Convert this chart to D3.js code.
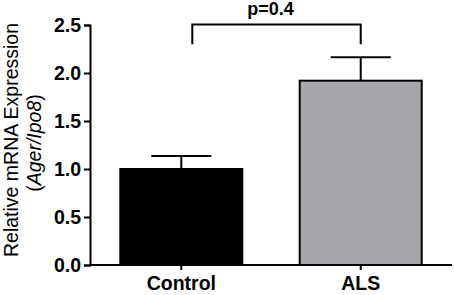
<!DOCTYPE html>
<html><head><meta charset="utf-8">
<script src="https://cdn.jsdelivr.net/npm/d3@7"></script>
<style>body{margin:0;background:#fff}svg{display:block}</style>
</head><body>
<script>
const categories = ["Control", "ALS"];
const means = [1.0, 1.92];
const sems = [0.135, 0.245];
const yTicks = [0, 0.5, 1.0, 1.5, 2.0, 2.5];
const pLabel = "p=0.4";
const bracket = { top: 2.505, leg: 2.30 };
const colors = ["#000000", "#a7a6ab"];

const W = 454, H = 295;
const svg = d3.select("body").append("svg").attr("width", W).attr("height", H);
const font = "'Liberation Sans', Arial, sans-serif";

const y = d3.scaleLinear().domain([0, 2.5]).range([265, 25]);
const x = d3.scaleBand().domain(categories).range([91.6, 450.4]).paddingInner(0.32).paddingOuter(0.16);

// bars
svg.selectAll("rect.bar").data(categories).join("rect")
  .attr("x", d => x(d)).attr("y", (d,i) => y(means[i]))
  .attr("width", x.bandwidth()).attr("height", (d,i) => y(0) - y(means[i]))
  .attr("fill", (d,i) => colors[i]).attr("stroke", "#000").attr("stroke-width", 2);

// error bars
const cap = 30;
categories.forEach((c, i) => {
  const cx = x(c) + x.bandwidth()/2;
  svg.append("line").attr("x1", cx).attr("x2", cx).attr("y1", y(means[i])).attr("y2", y(means[i]+sems[i]))
    .attr("stroke", "#000").attr("stroke-width", 2);
  svg.append("line").attr("x1", cx-cap).attr("x2", cx+cap).attr("y1", y(means[i]+sems[i])).attr("y2", y(means[i]+sems[i]))
    .attr("stroke", "#000").attr("stroke-width", 2);
});

// y axis
const yAxis = svg.append("g").attr("transform", "translate(90,0)")
  .call(d3.axisLeft(y).tickValues(yTicks).tickFormat(d3.format(".1f")).tickSize(6).tickPadding(3));
yAxis.select(".domain").attr("stroke-width", 2);
yAxis.selectAll(".tick line").attr("stroke-width", 2);
yAxis.selectAll(".tick text").attr("font-family", font).attr("font-size", 19.5).attr("font-weight", "bold").attr("fill", "#000");

// x axis
const xAxis = svg.append("g").attr("transform", "translate(0,265)")
  .call(d3.axisBottom(x).tickSize(5).tickPadding(6));
xAxis.select(".domain").remove();
xAxis.selectAll(".tick line").attr("stroke-width", 2);
xAxis.selectAll(".tick text").attr("font-family", font).attr("font-size", 19.5).attr("font-weight", "bold").attr("fill", "#000");
svg.append("line").attr("x1", 89).attr("x2", 452).attr("y1", 265).attr("y2", 265).attr("stroke", "#000").attr("stroke-width", 2);

// significance bracket
const bx1 = x("Control") + x.bandwidth()/2 + 11;
const bx2 = x("ALS") + x.bandwidth()/2;
svg.append("path")
  .attr("d", `M${bx1},${y(bracket.leg)}V${y(bracket.top)}H${bx2}V${y(bracket.leg)}`)
  .attr("fill", "none").attr("stroke", "#000").attr("stroke-width", 2);
svg.append("text").attr("x", (bx1+bx2)/2 - 6).attr("y", 14.5)
  .attr("text-anchor", "middle").attr("font-family", font).attr("font-size", 18).attr("font-weight", "bold")
  .text(pLabel);

// y label
const lab = svg.append("g").attr("transform", "translate(0,140) rotate(-90)");
lab.append("text").attr("x", 0).attr("y", 18).attr("text-anchor", "middle")
  .attr("font-family", font).attr("font-size", 19.5).text("Relative mRNA Expression");
const t2 = lab.append("text").attr("x", -3).attr("y", 41).attr("text-anchor", "middle")
  .attr("font-family", font).attr("font-size", 19.5);
t2.append("tspan").text("(");
t2.append("tspan").attr("font-style", "italic").text("Ager/Ipo8");
t2.append("tspan").text(")");
</script>
</body></html>
